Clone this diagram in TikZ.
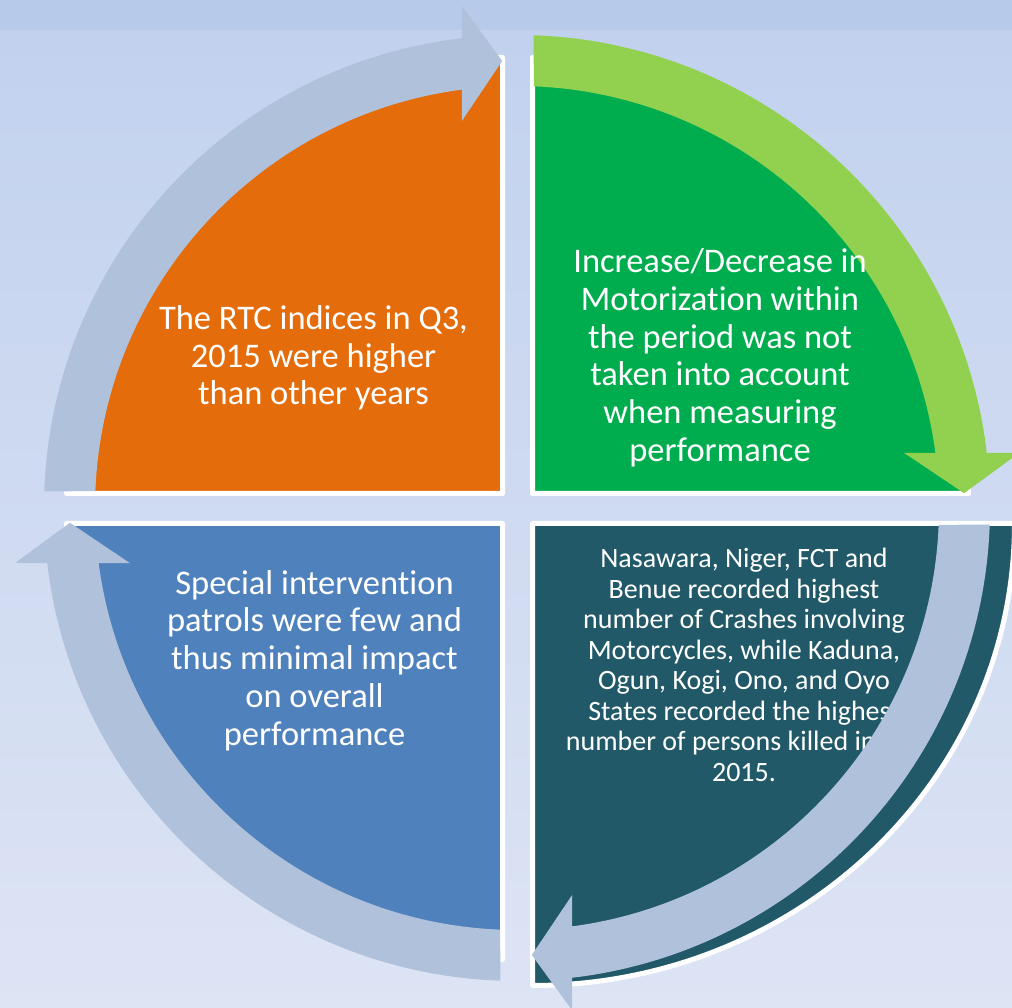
\documentclass[tikz,border=0pt]{standalone}
\usepackage{fontspec}
\setmainfont{Carlito}[Ligatures=NoCommon]
\definecolor{bgtop}{HTML}{C1D1EE}
\definecolor{bgbot}{HTML}{DDE4F4}
\definecolor{bgband}{HTML}{B8CAE9}
\definecolor{qorange}{HTML}{E46C0A}
\definecolor{qgreen}{HTML}{00AD4E}
\definecolor{qblue}{HTML}{4F81BD}
\definecolor{qteal}{HTML}{215968}
\definecolor{agray}{HTML}{B0C1DC}
\definecolor{agreen}{HTML}{92D050}
\begin{document}
\begin{tikzpicture}[x=1pt,y=1pt,
    quad/.style={draw=white,line width=5,line join=round},
    bigtxt/.style={text=white,align=center,inner sep=0,font=\fontsize{34.5}{37.9}\selectfont},
    smalltxt/.style={text=white,align=center,inner sep=0,font=\fontsize{28}{30.5}\selectfont}]
    % Canvas
        \useasboundingbox (0,0) rectangle (1012,1008);
        \clip (0,0) rectangle (1012,1008);
        \shade[top color=bgtop,bottom color=bgbot] (0,0) rectangle (1012,1008);
        \fill[bgband] (0,978) rectangle (1012,1008);
        \coordinate (c) at (517,500);
    % Quadrants
        \draw[quad,fill=qorange] (502.5,514.5) -- ++(0,436) arc[start angle=90,end angle=180,radius=436] -- cycle;
        \draw[quad,fill=qgreen] (532.5,514.5) -- ++(0,436) arc[start angle=90,end angle=0,radius=436] -- cycle;
        \draw[quad,fill=qblue] (502.5,484.5) -- ++(-436,0) arc[start angle=180,end angle=270,radius=436] -- cycle;
        \draw[quad,fill=qteal] (532.5,484.5) -- ++(482,0) arc[start angle=0,end angle=-90,x radius=482,y radius=462] -- cycle;
    % Texts under the arrows (base = last line)
        \node[bigtxt,anchor=base] (rtc) at (313.5,603) {The RTC indices in Q3,\\2015 were higher\\than other years};
        \node[bigtxt,anchor=base] (patrols) at (314.5,262.3) {Special intervention\\patrols were few and\\thus minimal impact\\on overall\\performance};
        \node[smalltxt,anchor=base] (states) at (744,226.5) {Nasawara, Niger, FCT and\\Benue recorded highest\\number of Crashes involving\\Motorcycles, while Kaduna,\\Ogun, Kogi, Ono, and Oyo\\States recorded the highest\\number of persons killed in\hphantom{\ Q3,}\\2015.};
    % Arrows
        \foreach \r/\c in {0/agray,-90/agreen,-180/agray,90/agray}{
            \fill[\c,shift={(c)},rotate=\r] (178:473) arc[start angle=178,end angle=96.7,radius=473]
                -- (96.25:505) -- (91.9:447.3) -- (98.1:391) -- (97.5:422)
                arc[start angle=97.5,end angle=177.7,radius=422] -- cycle;
        }
    % Text over the green arrow
        \node[bigtxt,anchor=base] (motor) at (720,546.2) {Increase/Decrease in\\Motorization within\\the period was not\\taken into account\\when measuring\\performance};
\end{tikzpicture}
\end{document}
